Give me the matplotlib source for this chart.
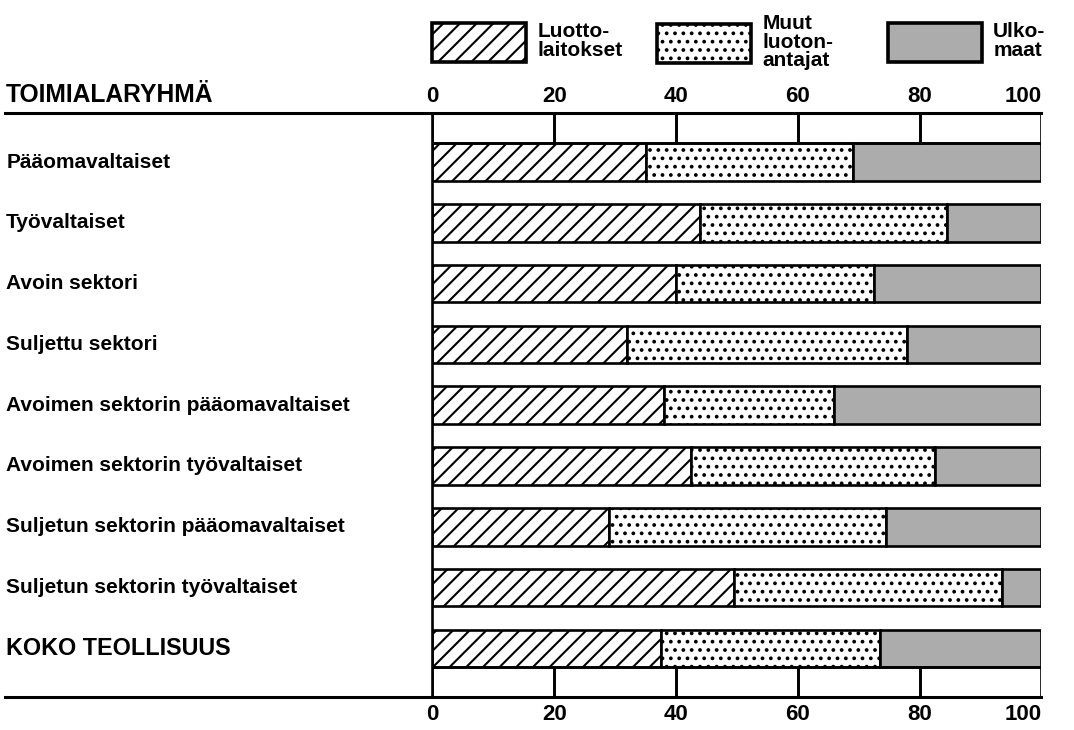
import matplotlib
matplotlib.use("Agg")
import matplotlib.pyplot as plt
import matplotlib.patches as mpatches
import numpy as np

# ============================================================
# Data (shares in %)
# ============================================================
categories = [
    "Pääomavaltaiset",
    "Työvaltaiset",
    "Avoin sektori",
    "Suljettu sektori",
    "Avoimen sektorin pääomavaltaiset",
    "Avoimen sektorin työvaltaiset",
    "Suljetun sektorin pääomavaltaiset",
    "Suljetun sektorin työvaltaiset",
    "KOKO TEOLLISUUS",
]
luottolaitokset = [35, 44, 40, 32, 38, 42.5, 29, 49.5, 37.5]
muut_luotonantajat = [34, 40.5, 32.5, 46, 28, 40, 45.5, 44, 36]
ulkomaat = [31, 15.5, 27.5, 22, 34, 17.5, 25.5, 6.5, 26.5]

legend_labels = ["Luotto-\nlaitokset", "Muut\nluoton-\nantajat", "Ulko-\nmaat"]
xticks = [0, 20, 40, 60, 80, 100]
header = "TOIMIALARYHMÄ"

# ============================================================
# Style
# ============================================================
plt.rcParams["font.family"] = ["Liberation Sans", "DejaVu Sans"]
plt.rcParams["font.weight"] = "bold"
plt.rcParams["hatch.linewidth"] = 1.5
LW = 1.9
GRAY = "#acacac"
HATCHES = ["//", "..", None]
FACES = ["white", "white", GRAY]
bar_h = 0.62
y_top, y_bot = -0.806, 8.8
W, H = 1074, 730

fig = plt.figure(figsize=(W / 100, H / 100), dpi=100)
ax = fig.add_axes([0.4027, 0.0452, 0.5670, 0.8000])
ax.set_xlim(0, 100)
ax.set_ylim(y_bot, y_top)
for s in ax.spines.values():
    s.set_visible(False)

y = np.arange(len(categories))
left2 = np.array(luottolaitokset)
left3 = left2 + np.array(muut_luotonantajat)

ax.barh(y, luottolaitokset, height=bar_h, color=FACES[0], edgecolor="black",
        hatch=HATCHES[0], linewidth=LW)
ax.barh(y, muut_luotonantajat, left=left2, height=bar_h, color=FACES[1],
        edgecolor="black", hatch=HATCHES[1], linewidth=LW)
ax.barh(y, ulkomaat, left=left3, height=bar_h, color=FACES[2],
        edgecolor="black", linewidth=LW)

# scale cells at top and bottom
cell_left = xticks[:-1]
cell_w = [20] * 5
top_h = (-bar_h / 2) - y_top
bot_h = y_bot - (y[-1] + bar_h / 2)
ax.barh([y_top + top_h / 2] * 5, cell_w, left=cell_left, height=top_h,
        fill=False, edgecolor="black", linewidth=LW)
ax.barh([y_bot - bot_h / 2] * 5, cell_w, left=cell_left, height=bot_h,
        fill=False, edgecolor="black", linewidth=LW)

# left axis line and long horizontal rules
ax.plot([0, 0], [y_top, y_bot], color="black", lw=LW, clip_on=False)
trans = ax.get_yaxis_transform()
for yy in (y_top, y_bot):
    ax.plot([-0.702, 1.0], [yy, yy], color="black", lw=LW + 0.3,
            transform=trans, clip_on=False)

# category labels
for yi, cat in zip(y, categories):
    size = 16.8 if cat.isupper() else 15
    ax.text(-0.700, yi, cat, transform=trans, ha="left", va="center",
            fontsize=size, fontweight="bold")
ax.text(-0.700, y_top - 0.18, header, transform=trans, ha="left",
        va="baseline", fontsize=17.7, fontweight="bold")

# x tick labels, bottom and top
ax.set_yticks([])
ax.set_xticks(xticks)
ax.set_xticklabels([str(t) for t in xticks], fontsize=16, fontweight="bold")
ax.tick_params(axis="x", length=0, pad=5)
sec = ax.secondary_xaxis("top")
sec.set_xticks(xticks)
sec.set_xticklabels([str(t) for t in xticks], fontsize=16, fontweight="bold")
sec.tick_params(axis="x", length=0, pad=4)
for s in sec.spines.values():
    s.set_visible(False)
for lab in (ax.get_xticklabels()[-1], sec.get_xticklabels()[-1]):
    lab.set_ha("right")

# legend: one entry per swatch position
swatch_x = [432, 657, 888]
for xpx, label, hatch, face in zip(swatch_x, legend_labels, HATCHES, FACES):
    handle = mpatches.Patch(facecolor=face, edgecolor="black", hatch=hatch,
                            linewidth=2.6)
    leg = fig.legend([handle], [label], loc="center left",
                     bbox_to_anchor=(xpx / W, 1 - 42 / H), frameon=False,
                     borderpad=0, borderaxespad=0,
                     handlelength=4.5, handleheight=2.5, handletextpad=0.55,
                     prop={"size": 15, "weight": "bold"})
    for t in leg.get_texts():
        t.set_linespacing(0.95)

plt.savefig("out.png", dpi=100)
plt.close()
